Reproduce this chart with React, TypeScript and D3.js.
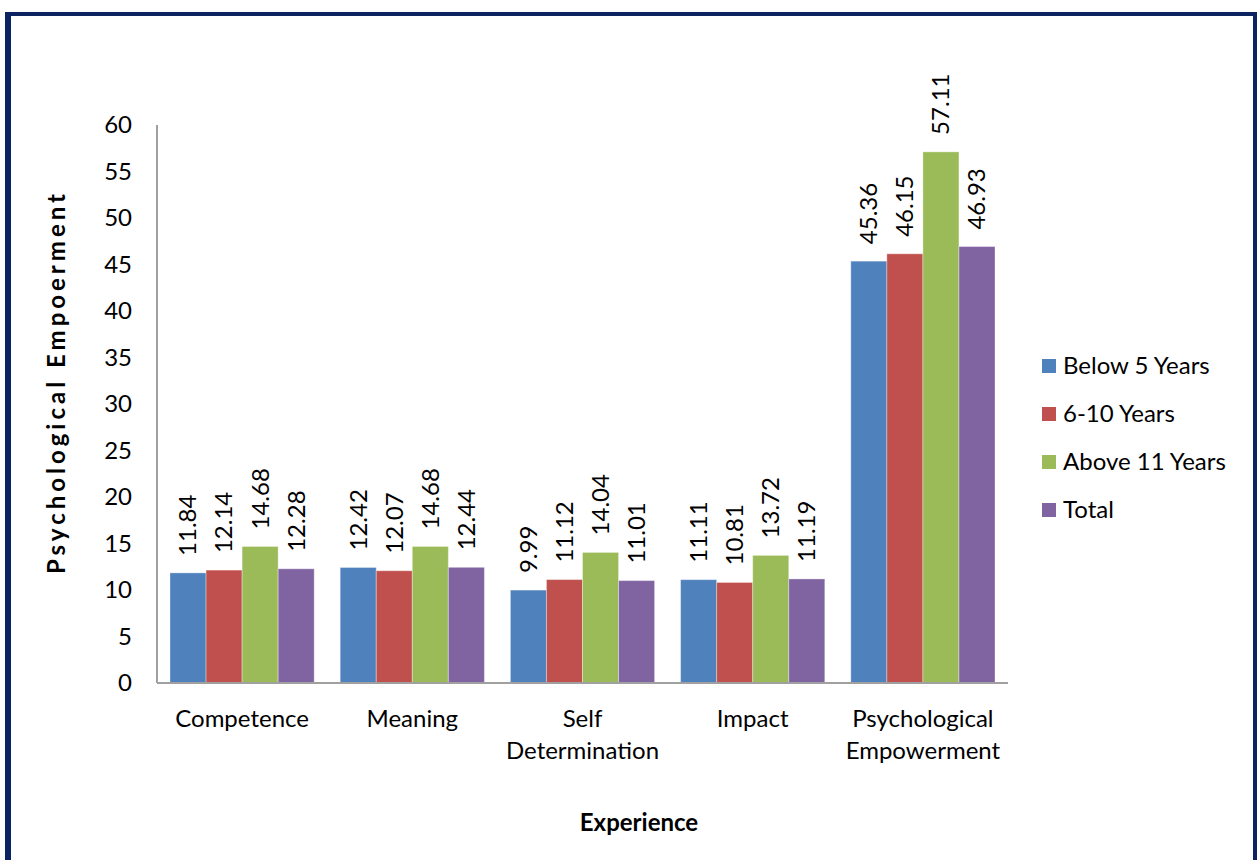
import React from "react";
import * as d3 from "d3";

const categories: string[][] = [
  ["Competence"],
  ["Meaning"],
  ["Self", "Determination"],
  ["Impact"],
  ["Psychological", "Empowerment"],
];
const seriesNames = ["Below 5 Years", "6-10 Years", "Above 11 Years", "Total"];
const seriesColors = ["#4f81bd", "#c0504d", "#9bbb59", "#8064a2"];
const below5 = [11.84, 12.42, 9.99, 11.11, 45.36];
const years6to10 = [12.14, 12.07, 11.12, 10.81, 46.15];
const above11 = [14.68, 14.68, 14.04, 13.72, 57.11];
const total = [12.28, 12.44, 11.01, 11.19, 46.93];
const yTicks = [0, 5, 10, 15, 20, 25, 30, 35, 40, 45, 50, 55, 60];

const series = [below5, years6to10, above11, total];

const W = 1258;
const H = 860;
const FONT = "Lato, 'Open Sans', sans-serif";
const FS = 24;

export default function App() {
  const left = 157;
  const right = 1008;
  const top = 125;
  const bottom = 683;
  const x0 = d3
    .scaleBand<number>()
    .domain(d3.range(categories.length))
    .range([left, right])
    .paddingInner(0)
    .paddingOuter(0);
  const groupW = x0.bandwidth();
  const x1 = d3
    .scaleBand<number>()
    .domain(d3.range(series.length))
    .range([13, groupW - 13])
    .padding(0);
  const y = d3.scaleLinear().domain([0, 60]).range([bottom, top]);

  return (
    <svg
      width={W}
      height={H}
      style={{ position: "absolute", left: 0, top: 0, background: "#fff" }}
      fontFamily={FONT}
    >
      <rect x={0} y={0} width={W} height={H} fill="#fff" />
      {/* border */}
      <rect x={5} y={12} width={6} height={H} fill="#0b2461" />
      <rect x={5} y={12} width={1252} height={4} fill="#0b2461" />
      <rect x={1253} y={12} width={4} height={H} fill="#0b2461" />

      {/* y tick labels */}
      {yTicks.map((t) => (
        <text
          key={t}
          x={132}
          y={y(t)}
          dy="0.35em"
          textAnchor="end"
          fontSize={FS}
          fill="#000"
        >
          {t}
        </text>
      ))}

      {/* bars */}
      {categories.map((_, ci) =>
        series.map((s, si) => {
          const bx = (x0(ci) as number) + (x1(si) as number);
          const bw = x1.bandwidth();
          const by = y(s[ci]);
          return (
            <g key={`${ci}-${si}`}>
              <rect
                x={bx}
                y={by}
                width={bw}
                height={bottom - by}
                fill={seriesColors[si]}
                stroke="#ffffff"
                strokeOpacity={0.35}
                strokeWidth={1}
              />
              <text
                transform={`translate(${bx + bw / 2},${by - 17}) rotate(-90)`}
                dy="0.35em"
                textAnchor="start"
                fontSize={FS}
                fill="#000"
              >
                {s[ci].toFixed(2)}
              </text>
            </g>
          );
        })
      )}

      {/* axes */}
      <line x1={left} x2={left} y1={top} y2={bottom} stroke="#a0a0a0" strokeWidth={2} />
      <line x1={left} x2={right} y1={bottom} y2={bottom} stroke="#a0a0a0" strokeWidth={2} />

      {/* category labels */}
      {categories.map((lines, ci) => (
        <text
          key={ci}
          x={(x0(ci) as number) + groupW / 2}
          y={727}
          textAnchor="middle"
          fontSize={FS}
          fill="#000"
        >
          {lines.map((l, li) => (
            <tspan key={li} x={(x0(ci) as number) + groupW / 2} dy={li === 0 ? 0 : 32}>
              {l}
            </tspan>
          ))}
        </text>
      ))}

      {/* axis titles */}
      <text x={639} y={831} textAnchor="middle" fontSize={FS} fontWeight="bold" fill="#000">
        Experience
      </text>
      <text
        transform={`translate(57,382) rotate(-90)`}
        dy="0.35em"
        textAnchor="middle"
        fontSize={FS}
        fontWeight="bold"
        letterSpacing={4}
        fill="#000"
      >
        Psychological Empoerment
      </text>

      {/* legend */}
      {seriesNames.map((n, i) => (
        <g key={n} transform={`translate(1042,${366 + i * 48})`}>
          <rect x={0} y={-7} width={14} height={14} fill={seriesColors[i]} />
          <text x={21} y={0} dy="0.35em" fontSize={FS} fill="#000">
            {n}
          </text>
        </g>
      ))}
    </svg>
  );
}
